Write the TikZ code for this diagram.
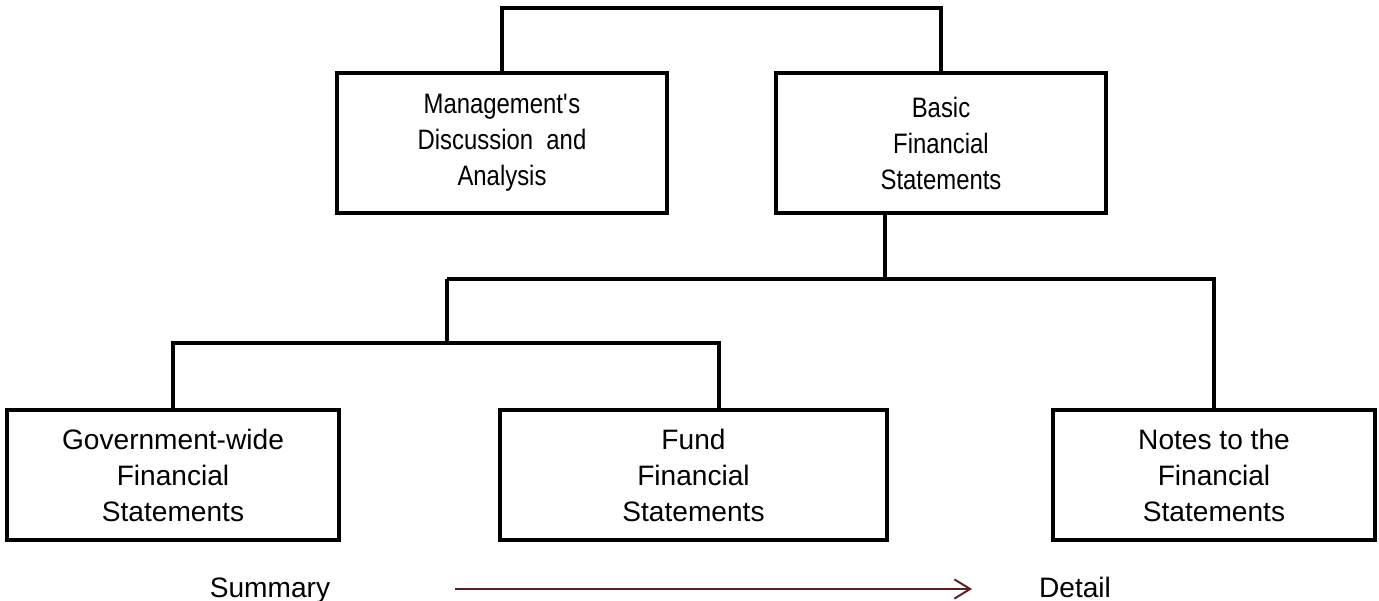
\documentclass[tikz,border=0pt]{standalone}
\usepackage{fontspec}
\setmainfont{Liberation Sans}
\newfontfamily\narrowsans[FakeStretch=0.85]{Liberation Sans}
\usetikzlibrary{arrows.meta}
\definecolor{trendred}{RGB}{96,30,30}

\tikzset{
	block/.style={draw, line width=2.2pt, align=center, inner sep=0pt, font=\fontsize{16}{20.5}\selectfont},
	topblock/.style={block, minimum width=6.6cm, minimum height=2.8cm, font=\narrowsans\fontsize{16}{20.5}\selectfont},
	link/.style={line width=2.2pt},
	note/.style={font=\fontsize{16}{20.5}\selectfont, inner sep=0pt, anchor=base},
	trend/.style={draw=trendred, line width=1.1pt, -{Straight Barb[length=9pt, width=11pt]}},
}

\begin{document}
\begin{tikzpicture}[x=0.02cm, y=-0.02cm]
	\useasboundingbox (0, 0) rectangle (1379, 601);

	% Boxes:
	\node[topblock] (mda) at (502, 143) {Management\textquotesingle s\\Discussion\ \ and\\Analysis};
	\node[topblock] (basic) at (941, 143) {Basic\\Financial\\Statements};

	\node[block, minimum width=6.64cm, minimum height=2.6cm] (gov) at (173, 475) {Government-wide\\Financial\\Statements};
	\node[block, minimum width=7.74cm, minimum height=2.6cm] (fund) at (693.5, 475) {Fund\\Financial\\Statements};
	\node[block, minimum width=6.44cm, minimum height=2.6cm] (notes) at (1214, 475) {Notes to the\\Financial\\Statements};

	% Junctions:
	\coordinate (top) at (720, 8);
	\coordinate (split) at (885, 279);
	\coordinate (hub) at (447, 279);
	\coordinate (sub) at (447, 343);
	\coordinate (funddrop) at (719, 343);

	% Lines:
	\draw[link] (mda.north) |- (top) -| (basic.north);
	\draw[link] (basic.south -| split) -- (split);
	\draw[link] (hub) -| (notes.north);
	\draw[link] (hub) -- (sub);
	\draw[link] (gov.north) |- (funddrop) -- (funddrop |- fund.north);

	% Labels:
	\node[note] (summary) at (270, 597) {Summary};
	\node[note] (detail) at (1075, 597) {Detail};
	\coordinate (from) at (455, 589);
	\coordinate (to) at (972, 589);
	\draw[trend] (from) -- (to);

\end{tikzpicture}
\end{document}
